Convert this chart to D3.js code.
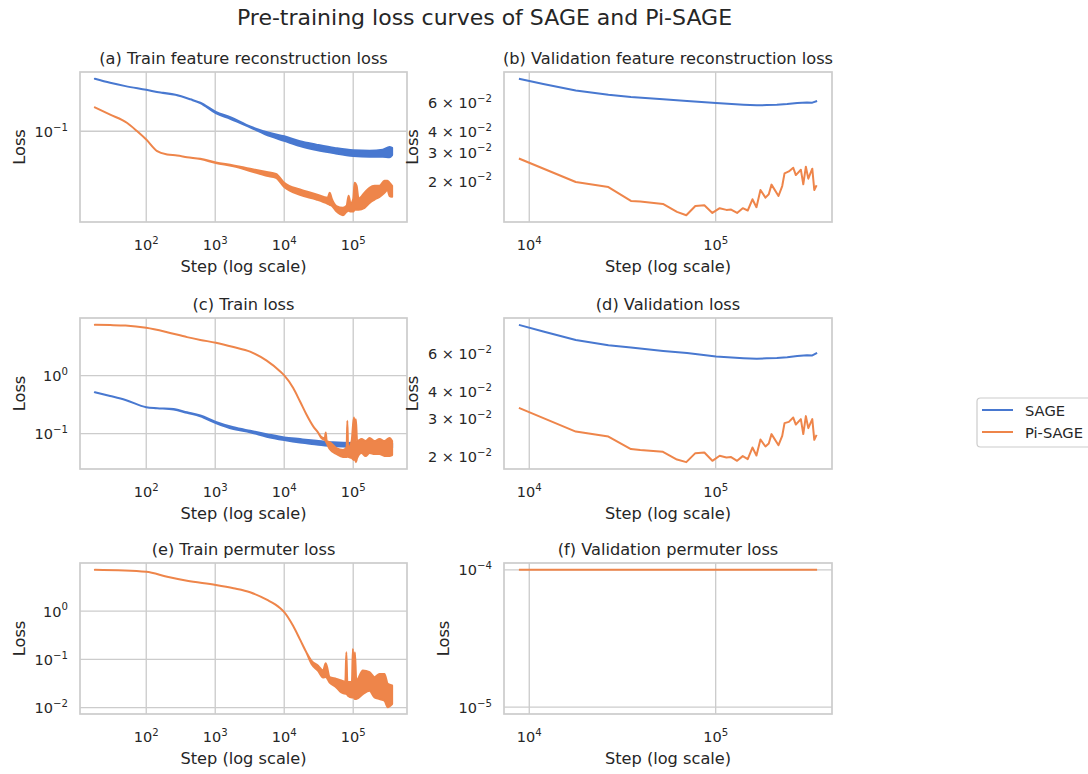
<!DOCTYPE html>
<html>
<head>
<meta charset="utf-8">
<script src="https://cdn.jsdelivr.net/npm/d3@7"></script>
<style>
  body { margin: 0; background: #fff; }
  svg { display: block; font-family: "DejaVu Sans", sans-serif; }
</style>
</head>
<body>
<div id="chart"></div>
<script>
// ---------- data ----------
// noisy training curves are kept as an upper / lower envelope of the noise band

// (a) train feature reconstruction loss
const sageTrainFeatSteps = [18, 30, 50, 100, 161, 265, 436, 608, 1020, 1650, 3200, 6220, 10000, 16900, 29300, 53900, 100300, 172500, 268300, 335200, 366600];
const sageTrainFeatHi = [0.350, 0.318, 0.294, 0.269, 0.252, 0.240, 0.215, 0.198, 0.159, 0.140, 0.112, 0.0959, 0.0887, 0.0787, 0.0727, 0.0672, 0.0636, 0.0630, 0.0645, 0.0688, 0.0672];
const sageTrainFeatLo = [0.350, 0.318, 0.294, 0.269, 0.252, 0.239, 0.214, 0.196, 0.154, 0.135, 0.110, 0.0891, 0.0797, 0.0703, 0.0639, 0.0591, 0.0555, 0.0545, 0.0545, 0.0537, 0.0567];

const piTrainFeatSteps = [18, 30, 53, 74, 100, 144, 201, 280, 390, 608, 1020, 1840, 3200, 5570, 7590, 10000, 16900, 29300, 42700, 45600, 48800, 57000, 71000, 80300, 85800, 91700, 100300, 104800, 112000, 119600, 146000, 172500, 203700, 240400, 283900, 313700, 335200, 366600];
const piTrainFeatHi = [0.177, 0.149, 0.122, 0.100, 0.0821, 0.0622, 0.0575, 0.0562, 0.0539, 0.0518, 0.0476, 0.0443, 0.0408, 0.0378, 0.0362, 0.0293, 0.0249, 0.0222, 0.0205, 0.0231, 0.0200, 0.0168, 0.0161, 0.0169, 0.0215, 0.0178, 0.0200, 0.0293, 0.0272, 0.0200, 0.0231, 0.0260, 0.0272, 0.0272, 0.0307, 0.0307, 0.0293, 0.0272];
const piTrainFeatLo = [0.177, 0.149, 0.122, 0.100, 0.0821, 0.0622, 0.0575, 0.0562, 0.0539, 0.0516, 0.0469, 0.0433, 0.0388, 0.0345, 0.0329, 0.0264, 0.0219, 0.0196, 0.0177, 0.0173, 0.0169, 0.0148, 0.0135, 0.0147, 0.0150, 0.0147, 0.0147, 0.0154, 0.0154, 0.0154, 0.0161, 0.0181, 0.0196, 0.0209, 0.0231, 0.0247, 0.0214, 0.0209];

// (c) train loss
const sageTrainSteps = [18, 30, 50, 100, 144, 250, 390, 608, 1020, 1840, 3200, 5570, 10000, 16900, 29300, 50900, 100300, 172500, 268300, 366600];
const sageTrainHi = [0.516, 0.446, 0.381, 0.286, 0.275, 0.265, 0.234, 0.206, 0.160, 0.129, 0.112, 0.0981, 0.0861, 0.0806, 0.0754, 0.0708, 0.0689, 0.0689, 0.0689, 0.0689];
const sageTrainLo = [0.516, 0.446, 0.381, 0.286, 0.275, 0.260, 0.228, 0.199, 0.152, 0.120, 0.106, 0.0888, 0.0774, 0.0701, 0.0653, 0.0611, 0.0595, 0.0587, 0.0576, 0.0571];

const piTrainSteps = [18, 30, 50, 100, 201, 390, 608, 1020, 1840, 3200, 5570, 8670, 10000, 13500, 16900, 21000, 26200, 31000, 34700, 38700, 40000, 41300, 45600, 57000, 71000, 80300, 82200, 84400, 94800, 102300, 105800, 109400, 113800, 132200, 151000, 172500, 203700, 240400, 283900, 335200, 366600];
const piTrainHi = [7.50, 7.44, 7.30, 6.67, 5.61, 4.61, 4.13, 3.69, 3.11, 2.59, 1.81, 1.19, 1.01, 0.611, 0.362, 0.214, 0.135, 0.104, 0.0872, 0.0838, 0.105, 0.0745, 0.0716, 0.0565, 0.0523, 0.0589, 0.167, 0.0565, 0.0745, 0.190, 0.135, 0.177, 0.0745, 0.0806, 0.0745, 0.0838, 0.0745, 0.0806, 0.0745, 0.0838, 0.0745];
const piTrainLo = [7.50, 7.44, 7.30, 6.67, 5.61, 4.61, 4.13, 3.69, 3.11, 2.59, 1.81, 1.19, 1.01, 0.611, 0.362, 0.214, 0.135, 0.104, 0.0837, 0.0774, 0.0744, 0.0688, 0.0543, 0.0446, 0.0396, 0.0396, 0.0412, 0.0396, 0.0381, 0.0352, 0.0381, 0.0323, 0.0381, 0.0464, 0.0412, 0.0464, 0.0446, 0.0446, 0.0412, 0.0412, 0.0428];

// (e) train permuter loss
const permTrainSteps = [18, 100, 201, 390, 1020, 1840, 3200, 5570, 8670, 10000, 13500, 16900, 21000, 24900, 31000, 36500, 40000, 45600, 57000, 67300, 76900, 79500, 82200, 83900, 95800, 99000, 102300, 105800, 110800, 138000, 172500, 203700, 240400, 283900, 316800, 366600];
const permTrainHi = [7.14, 6.50, 5.13, 4.24, 3.46, 2.96, 2.45, 1.72, 1.16, 0.949, 0.489, 0.259, 0.138, 0.0923, 0.0738, 0.0583, 0.0827, 0.0426, 0.0393, 0.0363, 0.0345, 0.140, 0.0335, 0.0336, 0.0345, 0.163, 0.0466, 0.140, 0.0363, 0.0583, 0.0540, 0.0426, 0.0498, 0.0498, 0.0310, 0.0286];
const permTrainLo = [7.14, 6.50, 5.13, 4.24, 3.46, 2.96, 2.45, 1.72, 1.16, 0.949, 0.489, 0.259, 0.138, 0.0800, 0.0575, 0.0419, 0.0430, 0.0330, 0.0261, 0.0205, 0.0193, 0.0193, 0.0183, 0.0176, 0.0161, 0.0161, 0.0161, 0.0150, 0.0150, 0.0190, 0.0222, 0.0162, 0.0150, 0.0139, 0.0102, 0.0118];

// validation curves (b), (d), (f)
const sageValSteps = [8800, 11890, 17760, 26580, 35100, 52300, 70200, 100400, 141000, 166000, 188000, 213000, 242000, 274000, 309000, 330000, 350000];
const sageValFeat = [0.0834, 0.0775, 0.0709, 0.0668, 0.0647, 0.0626, 0.0612, 0.0595, 0.0581, 0.0576, 0.0578, 0.0581, 0.0587, 0.0595, 0.0600, 0.0598, 0.0612];
const sageValLoss = [0.0815, 0.0759, 0.0694, 0.0656, 0.0640, 0.0617, 0.0603, 0.0581, 0.0571, 0.0567, 0.0571, 0.0573, 0.0577, 0.0584, 0.0590, 0.0588, 0.0604];

const piValSteps = [8800, 17760, 26580, 35100, 39380, 52140, 62000, 69570, 77800, 86950, 96000, 105100, 114200, 121000, 130300, 139700, 148600, 157500, 165500, 173900, 185000, 192700, 199300, 217300, 227500, 234100, 246900, 260700, 269200, 286400, 295100, 304700, 314000, 329800, 338100, 347900];
const piValFeat = [0.02742, 0.01973, 0.01840, 0.01515, 0.01502, 0.01453, 0.01300, 0.01242, 0.01413, 0.01427, 0.01282, 0.01369, 0.01337, 0.01344, 0.01282, 0.01369, 0.01326, 0.01551, 0.01388, 0.01765, 0.01588, 0.01663, 0.01903, 0.01624, 0.01866, 0.02226, 0.02289, 0.02410, 0.02175, 0.02344, 0.01911, 0.02444, 0.02068, 0.02377, 0.01765, 0.01885];
const piValLoss = [0.03363, 0.02611, 0.02476, 0.02165, 0.02142, 0.02103, 0.01937, 0.01884, 0.02074, 0.02088, 0.01911, 0.02016, 0.01979, 0.01988, 0.01911, 0.02009, 0.01946, 0.02202, 0.02022, 0.02398, 0.02225, 0.02298, 0.02541, 0.02258, 0.02495, 0.02856, 0.02896, 0.03032, 0.02814, 0.02981, 0.02541, 0.03078, 0.02708, 0.02981, 0.02390, 0.02522];

const permValSteps = [8800, 100400, 350000];
const permValLoss = [0.0001, 0.0001, 0.0001];

const seriesNames = ["SAGE", "Pi-SAGE"];

// ---------- style ----------
const W = 1088, H = 774;
const blue = "#4878d0", orange = "#ee854a";
const textColor = "#262626", gridColor = "#cccccc";
const tickSize = 14.5, labelSize = 16.2;

const svg = d3.select("#chart").append("svg")
    .attr("width", W)
    .attr("height", H);

svg.append("rect").attr("width", W).attr("height", H).attr("fill", "#fff");

svg.append("text")
    .attr("x", 484.5)
    .attr("y", 25)
    .attr("text-anchor", "middle")
    .attr("fill", textColor)
    .style("font-size", "22px")
    .text("Pre-training loss curves of SAGE and Pi-SAGE");

// log domain with 5% margins like matplotlib; a flat series gets a decade below it
function logDomain(vals) {
    let lo = Math.log10(d3.min(vals)), hi = Math.log10(d3.max(vals));
    if (hi - lo < 1e-9) lo -= 1;
    const pad = 0.05 * (hi - lo);
    return [Math.pow(10, lo - pad), Math.pow(10, hi + pad)];
}

// major ticks (grid) and labelled ticks (minor labels only when span < 1 decade)
function logTicks(domain) {
    const a = Math.log10(domain[0]), b = Math.log10(domain[1]);
    const numdec = b - a;
    const subs = numdec > 1 ? [1] : (numdec > 0.4 ? [1, 2, 3, 4, 6] : d3.range(1, 10));
    const major = [], labels = [];
    for (let e = Math.floor(a); e <= Math.ceil(b); e++) {
        const v = Math.pow(10, e);
        if (v >= domain[0] && v <= domain[1]) major.push(v);
        subs.forEach(c => {
            const w = c * v;
            if (w >= domain[0] * 0.999 && w <= domain[1] * 1.001) labels.push({ v: w, c: c, e: e });
        });
    }
    return { major, labels };
}

function writeLabel(sel, d) {
    sel.append("tspan").text(d.c === 1 ? "10" : d.c + " \u00d7 10");
    sel.append("tspan")
        .attr("dy", "-0.6em")
        .style("font-size", "70%")
        .text(d.e < 0 ? "\u2212" + (-d.e) : String(d.e));
}

const panels = [
    { title: "(a) Train feature reconstruction loss", box: [80, 72, 407, 222],
      series: [
        { color: blue, steps: sageTrainFeatSteps, hi: sageTrainFeatHi, lo: sageTrainFeatLo },
        { color: orange, steps: piTrainFeatSteps, hi: piTrainFeatHi, lo: piTrainFeatLo }] },
    { title: "(b) Validation feature reconstruction loss", box: [504, 72, 832, 222],
      series: [
        { color: blue, steps: sageValSteps, values: sageValFeat },
        { color: orange, steps: piValSteps, values: piValFeat }] },
    { title: "(c) Train loss", box: [80, 318, 407, 469],
      series: [
        { color: blue, steps: sageTrainSteps, hi: sageTrainHi, lo: sageTrainLo },
        { color: orange, steps: piTrainSteps, hi: piTrainHi, lo: piTrainLo }] },
    { title: "(d) Validation loss", box: [504, 318, 832, 469],
      series: [
        { color: blue, steps: sageValSteps, values: sageValLoss },
        { color: orange, steps: piValSteps, values: piValLoss }] },
    { title: "(e) Train permuter loss", box: [80, 563, 407, 714],
      series: [
        { color: orange, steps: permTrainSteps, hi: permTrainHi, lo: permTrainLo }] },
    { title: "(f) Validation permuter loss", box: [504, 563, 832, 714],
      series: [
        { color: orange, steps: permValSteps, values: permValLoss }] }
];

panels.forEach((p, pi) => {
    const [x0, y0, x1, y1] = p.box;
    const allSteps = [], allVals = [];
    p.series.forEach(s => {
        allSteps.push(...s.steps);
        if (s.values) allVals.push(...s.values);
        else allVals.push(...s.hi, ...s.lo);
    });

    const x = d3.scaleLog().domain(logDomain(allSteps)).range([x0, x1]);
    const y = d3.scaleLog().domain(logDomain(allVals)).range([y1, y0]);
    const xt = logTicks(x.domain()), yt = logTicks(y.domain());

    const g = svg.append("g").attr("class", "panel");

    // grid
    g.selectAll(".xgrid").data(xt.major).join("line")
        .attr("x1", d => x(d)).attr("x2", d => x(d))
        .attr("y1", y0).attr("y2", y1)
        .attr("stroke", gridColor).attr("stroke-width", 1.35);
    g.selectAll(".ygrid").data(yt.major).join("line")
        .attr("x1", x0).attr("x2", x1)
        .attr("y1", d => y(d)).attr("y2", d => y(d))
        .attr("stroke", gridColor).attr("stroke-width", 1.35);

    // curves, clipped to the axes box
    const clipId = "clip-" + pi;
    svg.append("clipPath").attr("id", clipId)
        .append("rect").attr("x", x0).attr("y", y0).attr("width", x1 - x0).attr("height", y1 - y0);
    const cg = g.append("g").attr("clip-path", "url(#" + clipId + ")");

    p.series.forEach(s => {
        if (s.values) {
            const pts = s.steps.map((st, i) => [st, s.values[i]]);
            cg.append("path").datum(pts)
                .attr("d", d3.line().x(d => x(d[0])).y(d => y(d[1])))
                .attr("fill", "none")
                .attr("stroke", s.color)
                .attr("stroke-width", 2)
                .attr("stroke-linejoin", "round");
        } else {
            // noise band of the training curve
            const pts = s.steps.map((st, i) => ({ s: st, hi: s.hi[i], lo: s.lo[i] }));
            cg.append("path").datum(pts)
                .attr("d", d3.area()
                    .curve(d3.curveMonotoneX)
                    .x(d => x(d.s)).y0(d => y(d.lo)).y1(d => y(d.hi)))
                .attr("fill", s.color)
                .attr("stroke", s.color)
                .attr("stroke-width", 2)
                .attr("stroke-linejoin", "round");
        }
    });

    // frame
    g.append("rect")
        .attr("x", x0).attr("y", y0)
        .attr("width", x1 - x0).attr("height", y1 - y0)
        .attr("fill", "none")
        .attr("stroke", gridColor)
        .attr("stroke-width", 1.7);

    // x tick labels
    g.selectAll(".xlab").data(xt.labels).join("text")
        .attr("x", d => x(d.v))
        .attr("y", y1 + 28)
        .attr("text-anchor", "middle")
        .attr("fill", textColor)
        .style("font-size", tickSize + "px")
        .each(function(d) { writeLabel(d3.select(this), d); });

    // y tick labels
    const ylabs = g.selectAll(".ylab").data(yt.labels).join("text")
        .attr("x", x0 - 12)
        .attr("y", d => y(d.v) + 5.5)
        .attr("text-anchor", "end")
        .attr("fill", textColor)
        .style("font-size", tickSize + "px")
        .each(function(d) { writeLabel(d3.select(this), d); });

    let minLeft = x0 - 12;
    ylabs.each(function() { minLeft = Math.min(minLeft, this.getBBox().x); });

    // axis labels and title
    g.append("text")
        .attr("transform", "translate(" + (minLeft - 10) + "," + ((y0 + y1) / 2) + ") rotate(-90)")
        .attr("text-anchor", "middle")
        .attr("fill", textColor)
        .style("font-size", labelSize + "px")
        .text("Loss");

    g.append("text")
        .attr("x", (x0 + x1) / 2)
        .attr("y", y1 + 50)
        .attr("text-anchor", "middle")
        .attr("fill", textColor)
        .style("font-size", labelSize + "px")
        .text("Step (log scale)");

    g.append("text")
        .attr("x", (x0 + x1) / 2)
        .attr("y", y0 - 8.5)
        .attr("text-anchor", "middle")
        .attr("fill", textColor)
        .style("font-size", labelSize + "px")
        .text(p.title);
});

// legend (runs off the right edge like the original)
const legend = svg.append("g");
legend.append("rect")
    .attr("x", 977).attr("y", 398)
    .attr("width", 130).attr("height", 49)
    .attr("rx", 3.5)
    .attr("fill", "#fff")
    .attr("stroke", gridColor)
    .attr("stroke-width", 1.2);

const legendColors = [blue, orange];
seriesNames.forEach((name, i) => {
    const ly = 410 + i * 22;
    legend.append("line")
        .attr("x1", 982).attr("x2", 1013)
        .attr("y1", ly).attr("y2", ly)
        .attr("stroke", legendColors[i])
        .attr("stroke-width", 2);
    legend.append("text")
        .attr("x", 1025).attr("y", ly + 5.5)
        .attr("fill", textColor)
        .style("font-size", "14.7px")
        .text(name);
});
</script>
</body>
</html>
